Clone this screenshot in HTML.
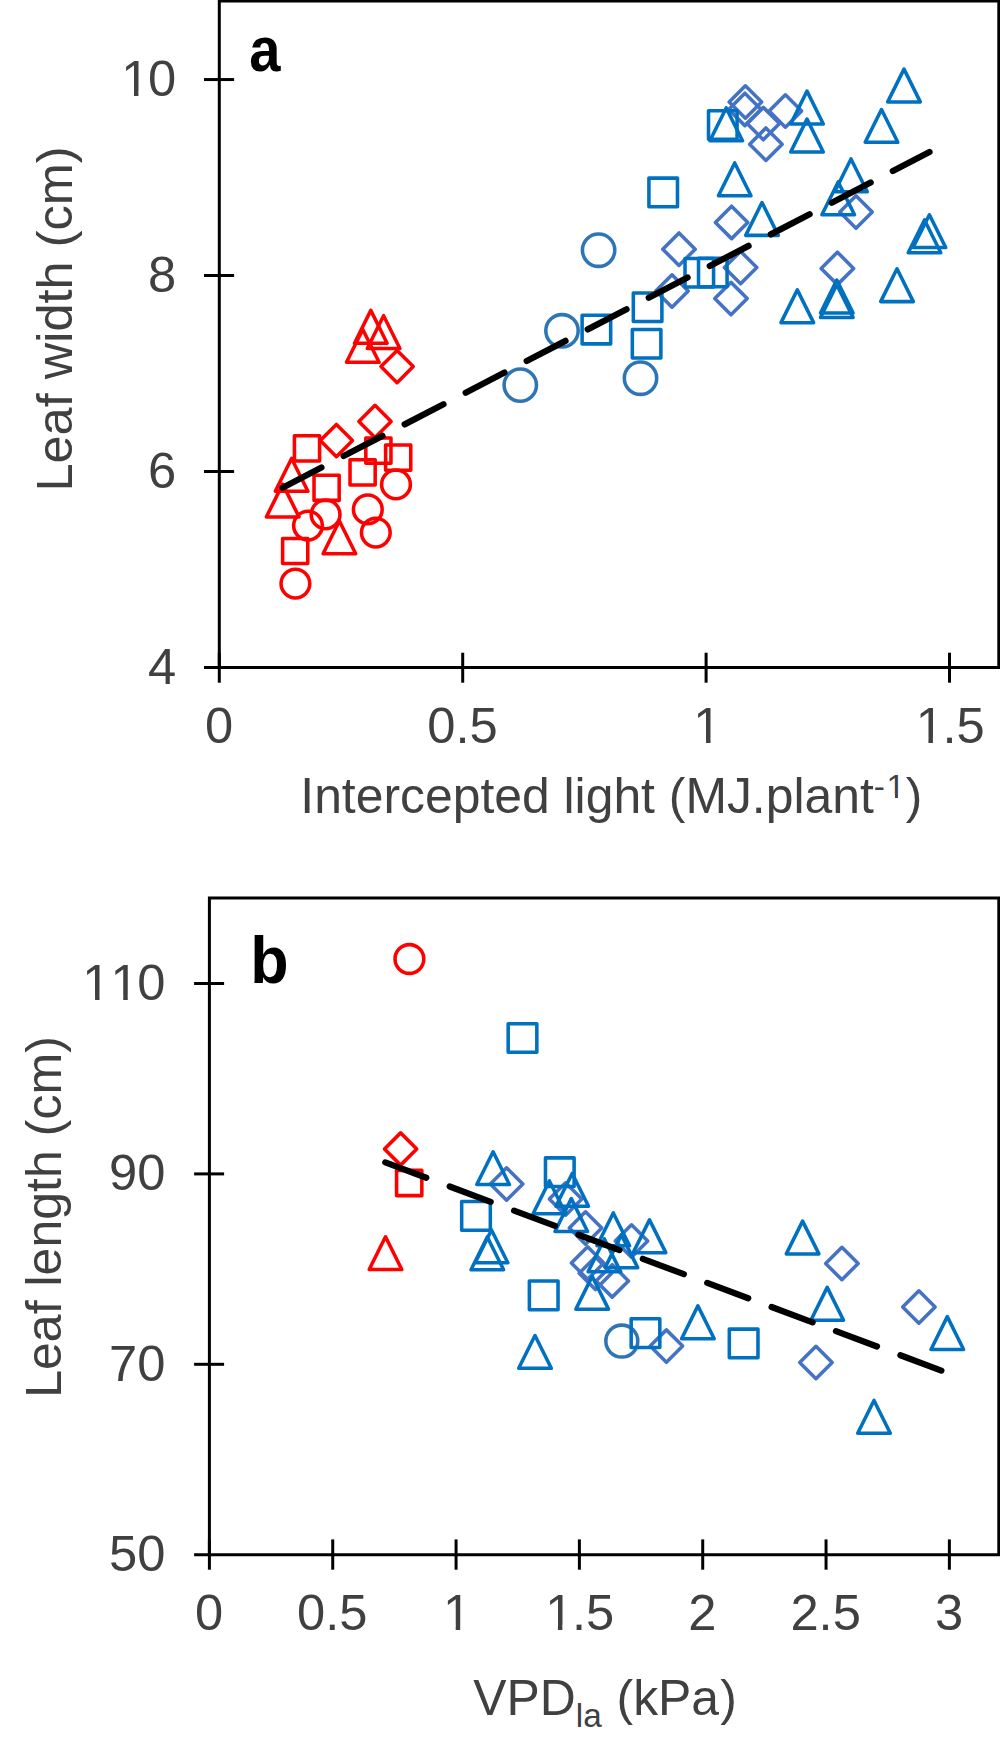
<!DOCTYPE html>
<html lang="en"><head><meta charset="utf-8"><title>Leaf width and leaf length charts</title>
<style>html,body{margin:0;padding:0;background:#fff}svg{display:block}</style></head>
<body>
<svg width="1000" height="1738" viewBox="0 0 1000 1738">
<rect width="1000" height="1738" fill="#fff"/>
<g fill="none" stroke-width="3.55" stroke-linejoin="round">
<circle cx="396.00" cy="484.40" r="14.37" stroke="#FF0000"/>
<circle cx="367.80" cy="509.40" r="14.37" stroke="#FF0000"/>
<circle cx="325.60" cy="514.40" r="14.37" stroke="#FF0000"/>
<circle cx="308.00" cy="525.60" r="14.37" stroke="#FF0000"/>
<circle cx="375.80" cy="532.60" r="14.37" stroke="#FF0000"/>
<circle cx="295.40" cy="583.60" r="14.37" stroke="#FF0000"/>
<circle cx="598.60" cy="250.20" r="16.18" stroke="#2E75B6"/>
<circle cx="562.00" cy="330.80" r="16.18" stroke="#2E75B6"/>
<circle cx="520.30" cy="385.10" r="16.18" stroke="#2E75B6"/>
<circle cx="640.50" cy="378.20" r="16.18" stroke="#2E75B6"/>
<path d="M397.10 350.48L413.23 366.60L397.10 382.73L380.98 366.60Z" stroke="#FF0000"/>
<path d="M375.00 405.27L391.12 421.40L375.00 437.52L358.88 421.40Z" stroke="#FF0000"/>
<path d="M336.40 424.48L352.52 440.60L336.40 456.73L320.27 440.60Z" stroke="#FF0000"/>
<path d="M745.40 85.78L761.62 102.00L745.40 118.22L729.17 102.00Z" stroke="#4472C4"/>
<path d="M744.90 93.18L761.12 109.40L744.90 125.62L728.67 109.40Z" stroke="#4472C4"/>
<path d="M763.30 107.38L779.52 123.60L763.30 139.82L747.07 123.60Z" stroke="#4472C4"/>
<path d="M785.40 94.78L801.62 111.00L785.40 127.22L769.17 111.00Z" stroke="#4472C4"/>
<path d="M765.90 127.97L782.12 144.20L765.90 160.42L749.67 144.20Z" stroke="#4472C4"/>
<path d="M731.60 206.18L747.83 222.40L731.60 238.62L715.38 222.40Z" stroke="#4472C4"/>
<path d="M679.00 232.97L695.23 249.20L679.00 265.43L662.77 249.20Z" stroke="#4472C4"/>
<path d="M672.00 274.77L688.23 291.00L672.00 307.23L655.77 291.00Z" stroke="#4472C4"/>
<path d="M740.60 251.38L756.83 267.60L740.60 283.83L724.38 267.60Z" stroke="#4472C4"/>
<path d="M731.00 282.38L747.23 298.60L731.00 314.83L714.77 298.60Z" stroke="#4472C4"/>
<path d="M856.00 195.78L872.23 212.00L856.00 228.22L839.77 212.00Z" stroke="#4472C4"/>
<path d="M837.40 252.17L853.62 268.40L837.40 284.62L821.17 268.40Z" stroke="#4472C4"/>
<rect x="294.43" y="435.82" width="25.15" height="25.15" stroke="#FF0000"/>
<rect x="365.82" y="438.03" width="25.15" height="25.15" stroke="#FF0000"/>
<rect x="385.62" y="445.03" width="25.15" height="25.15" stroke="#FF0000"/>
<rect x="350.03" y="459.82" width="25.15" height="25.15" stroke="#FF0000"/>
<rect x="314.03" y="475.23" width="25.15" height="25.15" stroke="#FF0000"/>
<rect x="282.62" y="538.42" width="25.15" height="25.15" stroke="#FF0000"/>
<rect x="582.12" y="315.33" width="28.55" height="28.55" stroke="#0070C0"/>
<rect x="633.33" y="292.93" width="28.55" height="28.55" stroke="#0070C0"/>
<rect x="632.33" y="329.53" width="28.55" height="28.55" stroke="#0070C0"/>
<rect x="648.93" y="178.12" width="28.55" height="28.55" stroke="#0070C0"/>
<rect x="708.52" y="110.72" width="28.55" height="28.55" stroke="#0070C0"/>
<rect x="685.02" y="258.53" width="28.55" height="28.55" stroke="#0070C0"/>
<rect x="698.52" y="258.23" width="28.55" height="28.55" stroke="#0070C0"/>
<path d="M370.80 310.40L387.10 343.20L354.50 343.20Z" stroke="#FF0000"/>
<path d="M383.60 315.70L399.90 348.50L367.30 348.50Z" stroke="#FF0000"/>
<path d="M362.80 329.50L379.10 362.30L346.50 362.30Z" stroke="#FF0000"/>
<path d="M291.60 458.45L307.90 491.25L275.30 491.25Z" stroke="#FF0000"/>
<path d="M282.70 484.10L299.00 516.90L266.40 516.90Z" stroke="#FF0000"/>
<path d="M339.40 520.95L355.70 553.75L323.10 553.75Z" stroke="#FF0000"/>
<path d="M726.20 107.95L742.50 140.75L709.90 140.75Z" stroke="#0070C0"/>
<path d="M807.00 91.15L823.30 123.95L790.70 123.95Z" stroke="#0070C0"/>
<path d="M807.00 119.15L823.30 151.95L790.70 151.95Z" stroke="#0070C0"/>
<path d="M734.70 162.95L751.00 195.75L718.40 195.75Z" stroke="#0070C0"/>
<path d="M762.00 202.55L778.30 235.35L745.70 235.35Z" stroke="#0070C0"/>
<path d="M838.20 181.95L854.50 214.75L821.90 214.75Z" stroke="#0070C0"/>
<path d="M904.00 69.10L920.30 101.90L887.70 101.90Z" stroke="#0070C0"/>
<path d="M881.50 109.50L897.80 142.30L865.20 142.30Z" stroke="#0070C0"/>
<path d="M851.00 158.95L867.30 191.75L834.70 191.75Z" stroke="#0070C0"/>
<path d="M929.40 214.75L945.70 247.55L913.10 247.55Z" stroke="#0070C0"/>
<path d="M924.50 219.95L940.80 252.75L908.20 252.75Z" stroke="#0070C0"/>
<path d="M897.00 268.80L913.30 301.60L880.70 301.60Z" stroke="#0070C0"/>
<path d="M836.80 280.15L853.10 312.95L820.50 312.95Z" stroke="#0070C0"/>
<path d="M836.80 284.65L853.10 317.45L820.50 317.45Z" stroke="#0070C0"/>
<path d="M797.30 289.85L813.60 322.65L781.00 322.65Z" stroke="#0070C0"/>
<circle cx="409.40" cy="959.00" r="14.37" stroke="#FF0000"/>
<circle cx="621.80" cy="1341.10" r="15.97" stroke="#2E75B6"/>
<path d="M400.60 1132.88L416.73 1149.00L400.60 1165.12L384.48 1149.00Z" stroke="#FF0000"/>
<path d="M506.60 1167.78L522.83 1184.00L506.60 1200.22L490.38 1184.00Z" stroke="#4472C4"/>
<path d="M565.60 1182.78L581.83 1199.00L565.60 1215.22L549.38 1199.00Z" stroke="#4472C4"/>
<path d="M585.50 1211.78L601.73 1228.00L585.50 1244.22L569.27 1228.00Z" stroke="#4472C4"/>
<path d="M631.50 1224.78L647.73 1241.00L631.50 1257.22L615.27 1241.00Z" stroke="#4472C4"/>
<path d="M587.60 1246.78L603.83 1263.00L587.60 1279.22L571.38 1263.00Z" stroke="#4472C4"/>
<path d="M595.40 1257.08L611.62 1273.30L595.40 1289.52L579.17 1273.30Z" stroke="#4472C4"/>
<path d="M612.25 1264.68L628.48 1280.90L612.25 1297.12L596.02 1280.90Z" stroke="#4472C4"/>
<path d="M666.40 1329.88L682.62 1346.10L666.40 1362.32L650.17 1346.10Z" stroke="#4472C4"/>
<path d="M841.90 1247.28L858.12 1263.50L841.90 1279.72L825.67 1263.50Z" stroke="#4472C4"/>
<path d="M918.90 1290.78L935.12 1307.00L918.90 1323.22L902.67 1307.00Z" stroke="#4472C4"/>
<path d="M815.95 1346.28L832.18 1362.50L815.95 1378.72L799.73 1362.50Z" stroke="#4472C4"/>
<rect x="396.57" y="1170.38" width="25.25" height="25.25" stroke="#FF0000"/>
<rect x="508.18" y="1023.67" width="28.65" height="28.65" stroke="#0070C0"/>
<rect x="461.68" y="1201.58" width="28.65" height="28.65" stroke="#0070C0"/>
<rect x="545.47" y="1157.88" width="28.65" height="28.65" stroke="#0070C0"/>
<rect x="529.38" y="1281.02" width="28.65" height="28.65" stroke="#0070C0"/>
<rect x="631.17" y="1318.77" width="28.65" height="28.65" stroke="#0070C0"/>
<rect x="729.32" y="1329.12" width="28.65" height="28.65" stroke="#0070C0"/>
<path d="M385.50 1236.75L401.80 1269.55L369.20 1269.55Z" stroke="#FF0000"/>
<path d="M493.10 1151.75L509.40 1184.55L476.80 1184.55Z" stroke="#0070C0"/>
<path d="M491.50 1229.95L507.80 1262.75L475.20 1262.75Z" stroke="#0070C0"/>
<path d="M487.30 1236.95L503.60 1269.75L471.00 1269.75Z" stroke="#0070C0"/>
<path d="M549.40 1180.95L565.70 1213.75L533.10 1213.75Z" stroke="#0070C0"/>
<path d="M572.20 1173.45L588.50 1206.25L555.90 1206.25Z" stroke="#0070C0"/>
<path d="M571.30 1198.65L587.60 1231.45L555.00 1231.45Z" stroke="#0070C0"/>
<path d="M613.30 1212.95L629.60 1245.75L597.00 1245.75Z" stroke="#0070C0"/>
<path d="M649.50 1219.85L665.80 1252.65L633.20 1252.65Z" stroke="#0070C0"/>
<path d="M621.40 1234.85L637.70 1267.65L605.10 1267.65Z" stroke="#0070C0"/>
<path d="M604.40 1238.95L620.70 1271.75L588.10 1271.75Z" stroke="#0070C0"/>
<path d="M592.20 1276.35L608.50 1309.15L575.90 1309.15Z" stroke="#0070C0"/>
<path d="M535.00 1335.50L551.30 1368.30L518.70 1368.30Z" stroke="#0070C0"/>
<path d="M697.90 1305.90L714.20 1338.70L681.60 1338.70Z" stroke="#0070C0"/>
<path d="M802.60 1221.10L818.90 1253.90L786.30 1253.90Z" stroke="#0070C0"/>
<path d="M827.20 1287.40L843.50 1320.20L810.90 1320.20Z" stroke="#0070C0"/>
<path d="M947.30 1316.65L963.60 1349.45L931.00 1349.45Z" stroke="#0070C0"/>
<path d="M874.00 1400.45L890.30 1433.25L857.70 1433.25Z" stroke="#0070C0"/>
</g>
<g fill="none" stroke="#000" stroke-width="6.25" stroke-linecap="round" stroke-dasharray="43.75 25">
<path d="M282.6 487.7L929.5 152"/>
<path d="M385.3 1162.4L941.7 1370.7"/>
</g>
<g fill="none" stroke="#000" stroke-width="3">
<path d="M219.3 668V1H998.8V667.5H204"/>
<path d="M204 79.55H234.1"/>
<path d="M204 275.5H234.1"/>
<path d="M204 471.5H234.1"/>
<path d="M219.3 652.7V682.7"/>
<path d="M462.7 652.7V682.7"/>
<path d="M706.1 652.7V682.7"/>
<path d="M949.5 652.7V682.7"/>
<path d="M209.4 1555V898H998.8V1554.65H194.1"/>
<path d="M194.1 983.5H224.1"/>
<path d="M194.1 1173.9H224.1"/>
<path d="M194.1 1364.3H224.1"/>
<path d="M209.40 1539.4V1569.7"/>
<path d="M332.73 1539.4V1569.7"/>
<path d="M456.06 1539.4V1569.7"/>
<path d="M579.39 1539.4V1569.7"/>
<path d="M702.72 1539.4V1569.7"/>
<path d="M826.05 1539.4V1569.7"/>
<path d="M949.38 1539.4V1569.7"/>
</g>
<g font-family="&quot;Liberation Sans&quot;, sans-serif" font-size="50.7" fill="#404040">
<text x="121.21 148.00" y="95.7">10</text>
<text x="148.00" y="291.6">8</text>
<text x="148.00" y="487.6">6</text>
<text x="148.00" y="683.6">4</text>
<text x="204.90" y="743.2">0</text>
<text x="427.26 455.46 469.54" y="743.2">0.5</text>
<text x="693.30" y="743.2">1</text>
<text x="915.66 942.46 956.54" y="743.2">1.5</text>
<text x="300.3" y="812.8" font-size="49.85">Intercepted light (MJ.plant<tspan font-size="33.3" x="873.8" dy="-14.6">-</tspan><tspan font-size="33.3" x="886.6">1</tspan><tspan x="905.75" dy="14.6">)</tspan></text>
<text transform="translate(72.4,319) rotate(-90)" text-anchor="middle" font-size="50.5">Leaf width (cm)</text>
<text x="82.31 110.51 137.30" y="999.9">110</text>
<text x="109.11 137.30" y="1190.3">90</text>
<text x="109.11 137.30" y="1380.7">70</text>
<text x="109.11 137.30" y="1571.0">50</text>
<text x="194.90" y="1629.8">0</text>
<text x="297.09 325.29 339.37" y="1629.8">0.5</text>
<text x="442.96" y="1629.8">1</text>
<text x="545.15 571.95 586.03" y="1629.8">1.5</text>
<text x="688.22" y="1629.8">2</text>
<text x="790.41 818.61 832.69" y="1629.8">2.5</text>
<text x="934.88" y="1629.8">3</text>
<text x="473.3" y="1714.5" font-size="49.85">VPD<tspan font-size="33.3" dy="12.5">la</tspan><tspan dy="-12.5" dx="1"> (kPa</tspan><tspan dx="1.3">)</tspan></text>
<text transform="translate(61.1,1217) rotate(-90)" text-anchor="middle" font-size="50.05">Leaf length (cm)</text>
</g>
<g font-family="&quot;Liberation Sans&quot;, sans-serif" font-size="64" font-weight="bold" fill="#000">
<text transform="translate(249.3,71.3) scale(0.9,1)" font-size="62.3">a</text>
<text transform="translate(250.2,983) scale(0.93,1)" font-size="67.5">b</text>
</g>
<g fill="#fff"><rect x="124.37" y="91.16" width="9.59" height="5.19"/><rect x="138.43" y="91.16" width="9.79" height="5.19"/><rect x="696.46" y="738.71" width="9.59" height="5.19"/><rect x="710.53" y="738.71" width="9.79" height="5.19"/><rect x="918.82" y="738.71" width="9.59" height="5.19"/><rect x="932.89" y="738.71" width="9.79" height="5.19"/><rect x="888.44" y="795.01" width="6.54" height="3.89"/><rect x="897.92" y="795.01" width="6.88" height="3.89"/><rect x="85.47" y="995.41" width="9.59" height="5.19"/><rect x="99.54" y="995.41" width="9.79" height="5.19"/><rect x="113.67" y="995.41" width="9.59" height="5.19"/><rect x="127.73" y="995.41" width="9.79" height="5.19"/><rect x="446.12" y="1625.31" width="9.59" height="5.19"/><rect x="460.19" y="1625.31" width="9.79" height="5.19"/><rect x="548.31" y="1625.31" width="9.59" height="5.19"/><rect x="562.38" y="1625.31" width="9.79" height="5.19"/></g>
</svg>
</body></html>
